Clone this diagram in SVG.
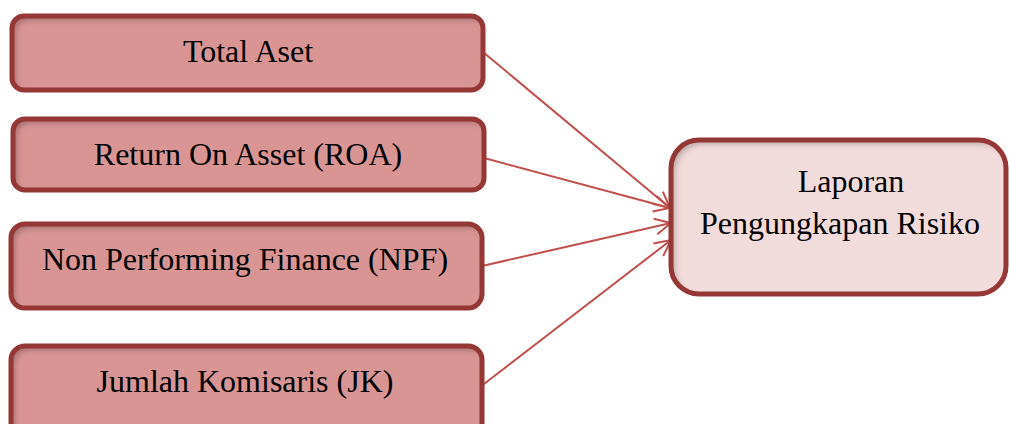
<svg xmlns="http://www.w3.org/2000/svg" width="1009" height="424" viewBox="0 0 1009 424">
<style>
.fill{fill:#d99594;filter:url(#inset)}
.fillt{fill:#f2dcdb;filter:url(#inset)}
.border{fill:none;stroke:#953735;stroke-width:5}
.lbl{font-family:"Liberation Serif","Times New Roman",serif;font-size:32px;fill:#000;text-anchor:middle}
.conn{stroke:#c0504d;stroke-width:2;fill:none;marker-end:url(#arr)}
</style>
<defs>
<filter id="inset" x="-5%" y="-20%" width="110%" height="140%">
<feFlood flood-color="#000" flood-opacity="0.5" result="f"/>
<feOffset in="SourceAlpha" dx="4" dy="4" result="o"/>
<feGaussianBlur in="o" stdDeviation="3" result="b"/>
<feComposite in="f" in2="b" operator="out" result="sh"/>
<feComposite in="sh" in2="SourceAlpha" operator="in" result="sh2"/>
<feMerge><feMergeNode in="SourceGraphic"/><feMergeNode in="sh2"/></feMerge>
</filter>
<marker id="arr" viewBox="0 0 20 20" refX="18" refY="10" markerWidth="20" markerHeight="20" markerUnits="userSpaceOnUse" orient="auto">
<path d="M2,2 L18,10 L2,18" fill="none" stroke="#c0504d" stroke-width="2"/>
</marker>
</defs>
<g id="connectors">
<line class="conn" x1="483" y1="52" x2="670" y2="208"/>
<line class="conn" x1="484" y1="158" x2="670" y2="208"/>
<line class="conn" x1="482" y1="266" x2="671" y2="223"/>
<line class="conn" x1="480" y1="387" x2="671" y2="240"/>
</g>
<g id="total-aset">
<rect class="fill" x="12" y="16" width="471" height="74" rx="12"/>
<rect class="border" x="12" y="16" width="471" height="74" rx="12"/>
<text class="lbl" x="248" y="62">Total Aset</text>
</g>
<g id="roa">
<rect class="fill" x="13" y="119" width="471" height="71" rx="12"/>
<rect class="border" x="13" y="119" width="471" height="71" rx="12"/>
<text class="lbl" x="248" y="165">Return On Asset (ROA)</text>
</g>
<g id="npf">
<rect class="fill" x="11" y="224" width="471" height="84" rx="14"/>
<rect class="border" x="11" y="224" width="471" height="84" rx="14"/>
<text class="lbl" x="245" y="270">Non Performing Finance (NPF)</text>
</g>
<g id="jk">
<rect class="fill" x="11" y="346" width="471" height="90" rx="14"/>
<rect class="border" x="11" y="346" width="471" height="90" rx="14"/>
<text class="lbl" x="245" y="392">Jumlah Komisaris (JK)</text>
</g>
<g id="laporan">
<rect class="fillt" x="671" y="140" width="335" height="154" rx="28"/>
<rect class="border" x="671" y="140" width="335" height="154" rx="28"/>
<text class="lbl" x="851" y="192">Laporan</text>
<text class="lbl" x="840" y="234">Pengungkapan Risiko</text>
</g>
</svg>
